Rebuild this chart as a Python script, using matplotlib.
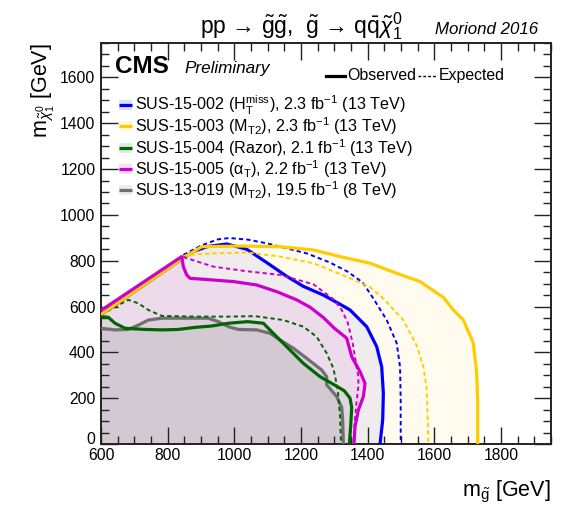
import matplotlib
matplotlib.use("Agg")
import matplotlib.pyplot as plt
import matplotlib.transforms as mtransforms
from matplotlib.patches import Rectangle

plt.rcParams["font.family"] = ["Liberation Sans", "DejaVu Sans"]
plt.rcParams["mathtext.fontset"] = "custom"
plt.rcParams["mathtext.rm"] = "Liberation Sans"
plt.rcParams["mathtext.it"] = "Liberation Sans:italic"
plt.rcParams["mathtext.bf"] = "Liberation Sans:bold"
plt.rcParams["mathtext.sf"] = "Liberation Sans"

# ---- exclusion contours (m_gluino, m_LSP) in GeV ----
# SUS-15-002 (HT miss)
blue_obs_x = [600, 850, 877, 920, 977, 1037, 1097, 1157, 1207, 1267, 1317, 1347, 1397, 1427, 1442, 1447, 1445, 1437]
blue_obs_y = [565, 815, 840, 862, 873, 850, 792, 732, 688, 650, 610, 585, 512, 425, 337, 221, 105, 0]
blue_exp_x = [847, 900, 950, 985, 1040, 1100, 1140, 1217, 1287, 1340, 1385, 1417, 1457, 1487, 1497, 1499, 1499]
blue_exp_y = [825, 866, 893, 899, 892, 875, 860, 832, 792, 752, 705, 635, 541, 440, 337, 192, 0]

# SUS-15-003 (MT2)
yel_obs_x = [600, 850, 902, 1017, 1137, 1237, 1317, 1407, 1487, 1557, 1627, 1657, 1687, 1717, 1727, 1730, 1730]
yel_obs_y = [565, 815, 861, 864, 861, 847, 818, 789, 745, 709, 640, 585, 541, 440, 309, 192, 0]
yel_exp_x = [847, 857, 937, 1037, 1137, 1237, 1337, 1407, 1447, 1507, 1547, 1567, 1577, 1580, 1582]
yel_exp_y = [818, 825, 832, 836, 818, 789, 730, 685, 635, 540, 430, 337, 240, 105, 0]

# SUS-15-004 (Razor)
grn_obs_x = [600, 622, 642, 672, 732, 785, 832, 882, 932, 982, 1040, 1087, 1127, 1167, 1207, 1257, 1300, 1330, 1347, 1352, 1349, 1345]
grn_obs_y = [556, 553, 527, 505, 500, 498, 500, 509, 515, 527, 534, 527, 468, 410, 352, 294, 258, 232, 200, 160, 80, 0]
grn_exp_x = [600, 642, 682, 712, 742, 782, 882, 982, 1062, 1147, 1207, 1247, 1277, 1297, 1310, 1317, 1320]
grn_exp_y = [563, 599, 629, 614, 585, 559, 556, 556, 558, 541, 512, 468, 396, 330, 240, 120, 0]

# SUS-15-005 (alphaT)
mag_obs_x = [600, 842, 847, 857, 867, 907, 997, 1067, 1127, 1187, 1227, 1267, 1300, 1337, 1352, 1377, 1392, 1387, 1372, 1362, 1359]
mag_obs_y = [583, 818, 774, 738, 723, 719, 709, 694, 665, 629, 597, 552, 505, 462, 381, 316, 265, 207, 148, 76, 0]
mag_exp_x = [847, 857, 937, 1037, 1137, 1237, 1297, 1322, 1340, 1355, 1365, 1372, 1372, 1365, 1360, 1357]
mag_exp_y = [818, 811, 774, 754, 738, 697, 632, 585, 530, 440, 352, 294, 250, 163, 76, 0]

# SUS-13-019 (MT2, 8 TeV)
gry_obs_x = [600, 642, 682, 712, 742, 782, 922, 952, 982, 1012, 1067, 1107, 1137, 1177, 1217, 1262, 1277, 1277, 1307, 1322, 1325, 1327]
gry_obs_y = [505, 498, 500, 519, 541, 549, 549, 534, 512, 500, 498, 483, 454, 418, 374, 323, 294, 258, 207, 160, 105, 0]

series = {
    # key: colour, legend label, obs x, obs y, exp x, exp y, fill alpha
    "yel": ("#ffcc00", r"SUS-15-003 (M$_{\mathrm{T2}}$), 2.3 fb$^{-1}$ (13 TeV)", yel_obs_x, yel_obs_y, yel_exp_x, yel_exp_y, 0.065),
    "blue": ("#0000ff", r"SUS-15-002 (H$_{\mathrm{T}}^{\mathrm{miss}}$), 2.3 fb$^{-1}$ (13 TeV)", blue_obs_x, blue_obs_y, blue_exp_x, blue_exp_y, 0.06),
    "mag": ("#cc00cc", r"SUS-15-005 (α$_{\mathrm{T}}$), 2.2 fb$^{-1}$ (13 TeV)", mag_obs_x, mag_obs_y, mag_exp_x, mag_exp_y, 0.075),
    "grn": ("#006600", r"SUS-15-004 (Razor), 2.1 fb$^{-1}$ (13 TeV)", grn_obs_x, grn_obs_y, grn_exp_x, grn_exp_y, 0.05),
    "gry": ("#707070", r"SUS-13-019 (M$_{\mathrm{T2}}$), 19.5 fb$^{-1}$ (8 TeV)", gry_obs_x, gry_obs_y, None, None, 0.11),
}
draw_order = ["yel", "blue", "mag", "grn", "gry"]
legend_order = ["blue", "yel", "grn", "mag", "gry"]
line_z = {"blue": 5, "yel": 6, "mag": 7, "grn": 4, "gry": 3}

x_min, x_max = 600, 1950
y_min, y_max = 0, 1750

fig = plt.figure(figsize=(5.74, 5.05), dpi=100)
ax = fig.add_axes([0.176, 0.1208, 0.784, 0.794])
ax.set_xlim(x_min, x_max)
ax.set_ylim(y_min, y_max)

for key in draw_order:
    col, lab, ox, oy, ex, ey, a = series[key]
    px = [ox[0]] + list(ox) + [ox[0]]
    py = [0] + list(oy) + [0]
    ax.fill(px, py, color=col, alpha=a, lw=0, zorder=1)
    ax.plot(ox, oy, color=col, lw=2.3, solid_capstyle="butt", zorder=line_z[key] + 0.5)
    if ex is not None:
        ax.plot(ex, ey, color=col, lw=1.4, ls=(0, (2.2, 1.6)), zorder=line_z[key])

# legend rows: filled swatch with the contour line through it
row_y0, row_step = 0.845, 0.053
for i, key in enumerate(legend_order):
    col, lab = series[key][0], series[key][1]
    yc = row_y0 - i * row_step
    ax.add_patch(Rectangle((0.040, yc - 0.0125), 0.029, 0.025, transform=ax.transAxes,
                           facecolor=col, alpha=0.13, edgecolor="none", zorder=8))
    ax.plot([0.040, 0.069], [yc, yc], transform=ax.transAxes, color=col, lw=2.3,
            solid_capstyle="butt", zorder=9)
    ax.text(0.0745, yc, lab, transform=ax.transAxes, fontsize=11.6, va="center", zorder=9)

# axes styling
ax.set_xticks(range(600, 1951, 200))
ax.set_yticks(range(0, 1751, 200))
ax.set_xticks(range(600, 1951, 50), minor=True)
ax.set_yticks(range(0, 1751, 50), minor=True)
ax.tick_params(which="both", direction="in", top=True, right=True, width=1.0, colors="#222222",
               labelcolor="black", labelsize=11.3)
ax.tick_params(which="major", length=12)
ax.tick_params(which="minor", length=6)
ax.tick_params(axis="x", pad=3)
ax.tick_params(axis="y", pad=4)
for s in ax.spines.values():
    s.set_linewidth(1.4)
    s.set_color("#222222")

# lift the y-axis "0" slightly so it sits above the first x label
zero_label = ax.yaxis.get_major_ticks()[0].label1
zero_label.set_transform(zero_label.get_transform() +
                         mtransforms.ScaledTranslation(0, 4 / 72, fig.dpi_scale_trans))

ax.set_xlabel(r"m$_{\tilde{\mathrm{g}}}$ [GeV]", fontsize=15.5, ha="right", va="center")
ax.xaxis.set_label_coords(1.0, -0.12)
ax.set_ylabel(r"m$_{\tilde{\chi}^{0}_{1}}$ [GeV]", fontsize=15.5, ha="right", va="center")
ax.yaxis.set_label_coords(-0.129, 1.0)

# header texts
fig.text(0.525, 0.949,
         r"pp → $\tilde{\mathrm{g}}\tilde{\mathrm{g}}$,  $\tilde{\mathrm{g}}$ → q$\bar{\mathrm{q}}\tilde{\chi}^{0}_{1}$",
         fontsize=16.5, ha="center", va="center")
fig.text(0.937, 0.942, "Moriond 2016", fontsize=12.2, style="italic", ha="right", va="center")

ax.text(0.032, 0.925, "CMS", transform=ax.transAxes, fontsize=17.5, fontweight="bold", va="baseline")
ax.text(0.185, 0.925, "Preliminary", transform=ax.transAxes, fontsize=12.3, style="italic", va="baseline")

# observed / expected key
ax.plot([0.50, 0.543], [0.918, 0.918], transform=ax.transAxes, color="black", lw=2.3)
ax.text(0.547, 0.918, "Observed", transform=ax.transAxes, fontsize=11.4, va="center")
ax.plot([0.705, 0.747], [0.918, 0.918], transform=ax.transAxes, color="black", lw=1.0, ls=(0, (2, 1.5)))
ax.text(0.751, 0.918, "Expected", transform=ax.transAxes, fontsize=11.4, va="center")

fig.savefig("out.png", dpi=100)
